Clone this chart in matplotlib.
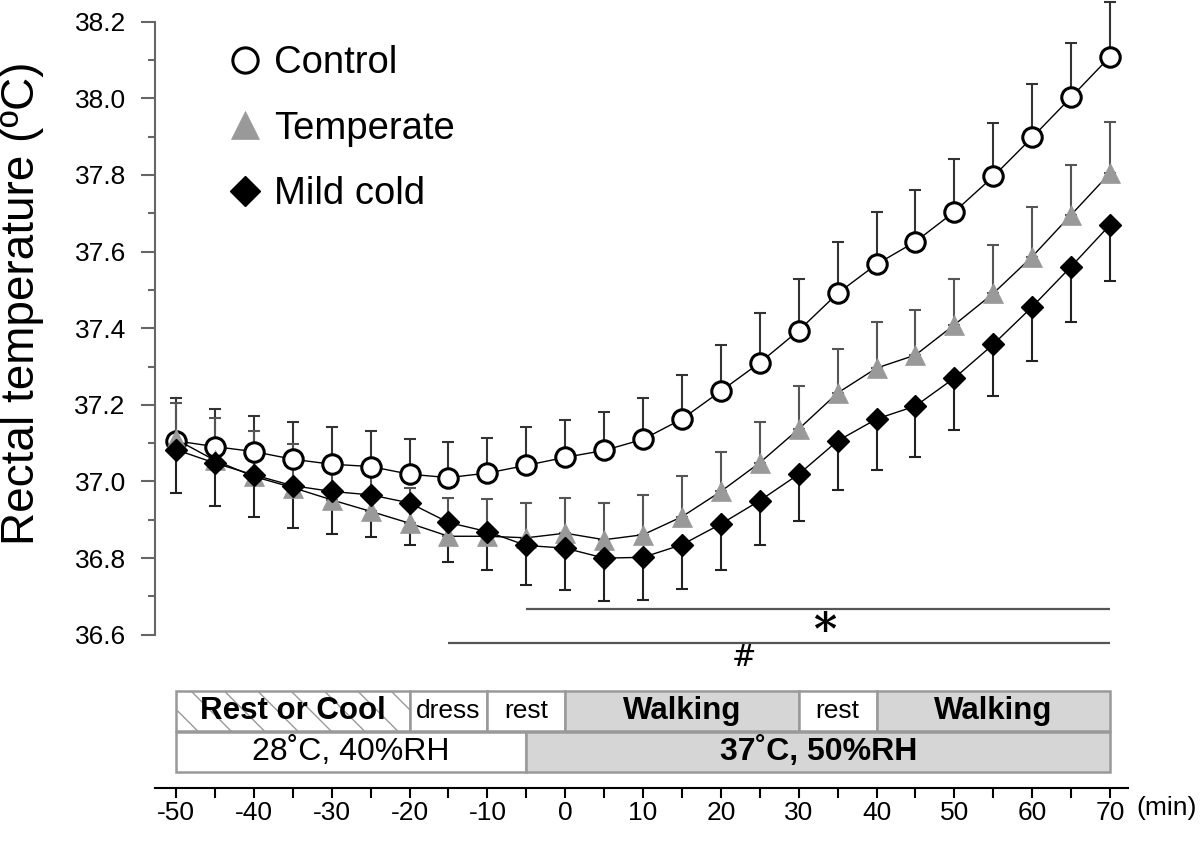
import matplotlib
matplotlib.use("Agg")
import matplotlib.pyplot as plt
import numpy as np

plt.rcParams['font.family'] = ['Liberation Sans', 'DejaVu Sans']
plt.rcParams['axes.unicode_minus'] = False

# ---- data ----
time = [-50, -45, -40, -35, -30, -25, -20, -15, -10, -5, 0, 5, 10,
        15, 20, 25, 30, 35, 40, 45, 50, 55, 60, 65, 70]

control = [37.106, 37.091, 37.078, 37.058, 37.045, 37.039, 37.019, 37.010, 37.022,
           37.042, 37.063, 37.081, 37.110, 37.163, 37.236, 37.310, 37.394, 37.491,
           37.567, 37.626, 37.704, 37.796, 37.898, 38.003, 38.109]
control_sd = [0.111, 0.098, 0.094, 0.097, 0.096, 0.093, 0.091, 0.093, 0.091,
              0.099, 0.098, 0.100, 0.107, 0.115, 0.121, 0.129, 0.134, 0.135,
              0.135, 0.135, 0.137, 0.139, 0.139, 0.141, 0.143]

temperate = [37.110, 37.055, 37.013, 36.984, 36.952, 36.922, 36.891, 36.857, 36.857,
             36.853, 36.865, 36.848, 36.861, 36.908, 36.974, 37.049, 37.137, 37.231,
             37.296, 37.330, 37.409, 37.491, 37.587, 37.696, 37.805]
temperate_sd = [0.094, 0.110, 0.120, 0.113, 0.115, 0.104, 0.092, 0.100, 0.098,
                0.091, 0.092, 0.097, 0.104, 0.105, 0.104, 0.106, 0.111, 0.115,
                0.119, 0.118, 0.119, 0.126, 0.129, 0.130, 0.132]

mildcold = [37.083, 37.048, 37.017, 36.989, 36.974, 36.965, 36.944, 36.893, 36.869,
            36.833, 36.826, 36.800, 36.802, 36.835, 36.889, 36.950, 37.019, 37.106,
            37.163, 37.197, 37.270, 37.358, 37.456, 37.561, 37.670]
mildcold_sd = [0.112, 0.113, 0.111, 0.111, 0.111, 0.110, 0.109, 0.104, 0.100,
               0.103, 0.110, 0.111, 0.111, 0.116, 0.120, 0.117, 0.123, 0.128,
               0.133, 0.132, 0.135, 0.136, 0.141, 0.146, 0.148]

# significance bars (start, end)
sig_star = [-5, 70]
sig_hash = [-15, 70]

# protocol boxes
phase_start = [-50, -20, -10, 0, 30, 40]
phase_end = [-20, -10, 0, 30, 40, 70]
phase_label = ['Rest or Cool', 'dress', 'rest', 'Walking', 'rest', 'Walking']
phase_fill = ['white', 'white', 'white', '#d6d6d6', 'white', '#d6d6d6']
phase_bold = [True, False, False, True, False, True]
phase_hatch = ['\\', None, None, None, None, None]

env_start = [-50, -5]
env_end = [-5, 70]
env_label = ['28\u02daC, 40%RH', '37\u02daC, 50%RH']
env_fill = ['white', '#d6d6d6']
env_bold = [False, True]

# ---- figure ----
fig = plt.figure(figsize=(12, 8.41), dpi=100)
ax = fig.add_axes([155/1200, 53/841, (1128-155)/1200, 788/841])
ax.set_xlim(-52.7, 72.3)
ax.set_ylim(36.2, 38.2566)

# error bars (one-sided)
ax.errorbar(time, control, yerr=[np.zeros(len(time)), control_sd], fmt='none',
            ecolor='#333333', elinewidth=1.5, capsize=4, capthick=1.5, zorder=2)
ax.errorbar(time, temperate, yerr=[np.zeros(len(time)), temperate_sd], fmt='none',
            ecolor='#555555', elinewidth=1.5, capsize=4, capthick=1.5, zorder=2)
ax.errorbar(time, mildcold, yerr=[mildcold_sd, np.zeros(len(time))], fmt='none',
            ecolor='#222222', elinewidth=1.5, capsize=4, capthick=1.5, zorder=2)

l1, = ax.plot(time, control, '-o', color='black', lw=1, ms=14, mfc='white',
              mec='black', mew=2.2, label='Control', zorder=3)
l2, = ax.plot(time, temperate, '-^', color='black', lw=1, ms=15, mfc='#999999',
              mec='#999999', mew=0.5, label='Temperate', zorder=4)
l3, = ax.plot(time, mildcold, '-D', color='black', lw=1, ms=11.5, mfc='black',
              mec='black', label='Mild cold', zorder=5)

leg = ax.legend(handles=[l1, l2, l3], loc='upper left',
                bbox_to_anchor=(0.0925, 0.943), frameon=False, fontsize=27.5,
                handlelength=0, handletextpad=0.75, markerscale=1.3,
                labelspacing=0.78, borderpad=0, borderaxespad=0)

# significance lines
ax.hlines(36.668, sig_star[0], sig_star[1], color='#555555', lw=1.6)
ax.hlines(36.578, sig_hash[0], sig_hash[1], color='#555555', lw=1.6)
ax.text(33.4, 36.605, '*', fontsize=32, ha='center', va='center',
        family='DejaVu Serif', fontweight='bold')
ax.text(23, 36.540, '#', fontsize=21, ha='center', va='center',
        family='DejaVu Serif')

# protocol boxes
row1_y, row2_y, row_h = 36.400, 36.2945, 0.105
for s, e, lab, fc, b, h in zip(phase_start, phase_end, phase_label,
                               phase_fill, phase_bold, phase_hatch):
    ax.barh(row1_y, e - s, left=s, height=row_h, color=fc, edgecolor='#999999',
            linewidth=1.8, hatch=h, zorder=1)
    ax.text((s + e) / 2, row1_y, lab, ha='center', va='center',
            fontsize=22.5 if b else 19, fontweight='bold' if b else 'normal', zorder=6)
for s, e, lab, fc, b in zip(env_start, env_end, env_label, env_fill, env_bold):
    ax.barh(row2_y, e - s, left=s, height=row_h, color=fc, edgecolor='#999999',
            linewidth=1.8, zorder=1)
    ax.text((s + e) / 2, row2_y, lab, ha='center', va='center', fontsize=23,
            fontweight='bold' if b else 'normal', zorder=6)

# axes styling
for side in ['top', 'right']:
    ax.spines[side].set_visible(False)
ax.spines['left'].set_bounds(36.6, 38.2)
ax.spines['left'].set_color('#666666')
ax.spines['left'].set_linewidth(1.5)
ax.spines['bottom'].set_linewidth(1.5)

ax.set_yticks(np.round(np.arange(36.6, 38.21, 0.2), 1))
ax.set_yticks(np.round(np.arange(36.7, 38.2, 0.2), 1), minor=True)
ax.yaxis.set_major_formatter(matplotlib.ticker.FormatStrFormatter('%.1f'))
ax.tick_params(axis='y', which='major', length=10, width=1.5, color='#666666',
               labelsize=19, pad=11)
ax.tick_params(axis='y', which='minor', length=5, width=1.5, color='#666666')

ax.set_xticks(np.arange(-50, 71, 10))
ax.set_xticks(np.arange(-45, 70, 10), minor=True)
ax.tick_params(axis='x', which='both', length=7, width=1.5, labelsize=19, pad=2)

fig.text(22/1200, 1 - 303/841, 'Rectal temperature (\u00baC)', rotation=90,
         ha='center', va='center', fontsize=33)
fig.text(1136/1200, 1 - 808/841, '(min)', ha='left', va='center', fontsize=19)

fig.savefig('out.png', dpi=100)
